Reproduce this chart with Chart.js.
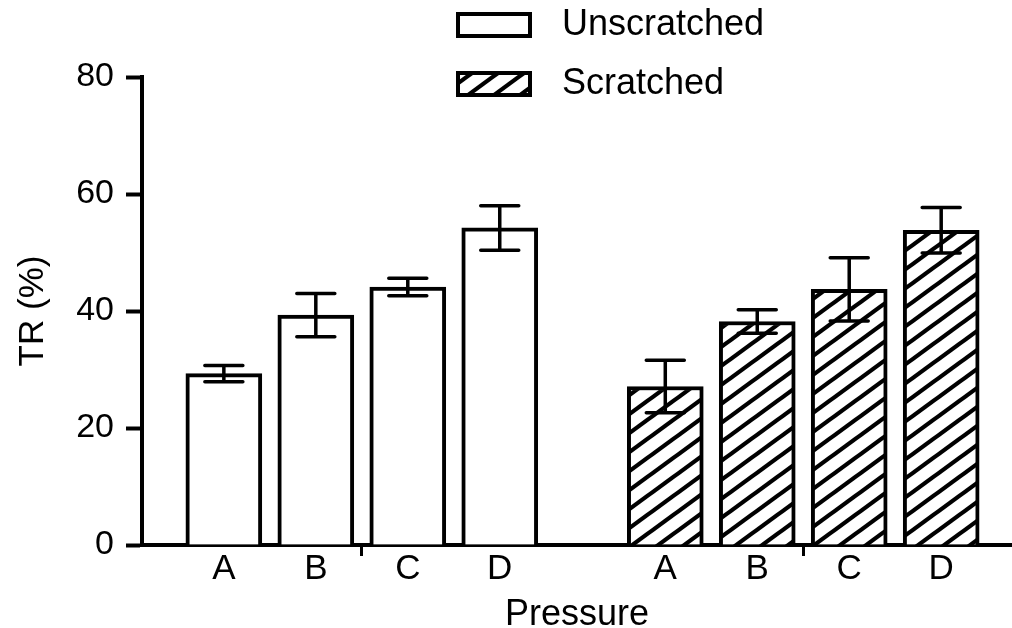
<!DOCTYPE html>
<html>
<head>
<meta charset="utf-8">
<script src="https://cdn.jsdelivr.net/npm/chart.js@4.4.1/dist/chart.umd.min.js"></script>
<style>
  html, body { margin: 0; padding: 0; background: #ffffff; }
  #wrap { width: 1012px; height: 628px; }
</style>
</head>
<body>
<div id="wrap"><canvas id="c" width="1012" height="628"></canvas></div>
<script>
// ---- data ----
const categories = ['A', 'B', 'C', 'D'];
const seriesNames = ['Unscratched', 'Scratched'];
const unscratched = [29.3, 39.3, 44.1, 54.2];
const unscratchedErr = [1.4, 3.7, 1.5, 3.8];
const scratched = [27.1, 38.2, 43.7, 53.8];
const scratchedErr = [4.5, 2.0, 5.4, 3.9];
const yTicks = [0, 20, 40, 60, 80];

// ---- layout helpers (positions on the linear x axis) ----
const GROUP_START = [1, 5.8];
function posOf(group, i) { return GROUP_START[group] + i; }
function groupCenter(group) { return GROUP_START[group] + (categories.length - 1) / 2; }

const FONT = "'Liberation Sans', Arial, Helvetica, sans-serif";

// hatch pattern
function makeHatch() {
  const w = 26, h = 19;
  const t = document.createElement('canvas');
  t.width = w; t.height = h;
  const g = t.getContext('2d');
  g.fillStyle = '#ffffff';
  g.fillRect(0, 0, w, h);
  g.strokeStyle = '#000000';
  g.lineWidth = 4.2;
  for (const off of [-h, 0, h]) {
    g.beginPath();
    g.moveTo(-w, 2 * h + off);
    g.lineTo(2 * w, -h + off);
    g.stroke();
  }
  return g.createPattern(t, 'repeat');
}
const ctx = document.getElementById('c').getContext('2d');
const hatch = makeHatch();

const errs = [unscratchedErr, scratchedErr];

const tickPositions = [];
const tickLabelMap = {};
const groupCenters = [];
[0, 1].forEach(g => {
  categories.forEach((c, i) => {
    const p = posOf(g, i);
    tickPositions.push(p);
    tickLabelMap[p.toFixed(3)] = c;
  });
  const gc = groupCenter(g);
  groupCenters.push(gc.toFixed(3));
  tickPositions.push(gc);
  tickLabelMap[gc.toFixed(3)] = '';
});
tickPositions.sort((a, b) => a - b);

const errorBarPlugin = {
  id: 'errorBars',
  afterDatasetsDraw(chart) {
    const c = chart.ctx;
    const ys = chart.scales.y;
    c.save();
    c.strokeStyle = '#000';
    c.lineWidth = 3.5;
    c.lineCap = 'round';
    chart.data.datasets.forEach((ds, di) => {
      const meta = chart.getDatasetMeta(di);
      meta.data.forEach((el, i) => {
        const v = ds.data[i].y;
        const e = errs[di][i];
        const x = el.x;
        const yt = ys.getPixelForValue(v + e);
        const yb = ys.getPixelForValue(v - e);
        const half = 19;
        c.beginPath();
        c.moveTo(x, yt); c.lineTo(x, yb);
        c.moveTo(x - half, yt); c.lineTo(x + half, yt);
        c.moveTo(x - half, yb); c.lineTo(x + half, yb);
        c.stroke();
      });
    });
    c.restore();
  }
};

const legendPlugin = {
  id: 'customLegend',
  afterDraw(chart) {
    const c = chart.ctx;
    c.save();
    const fills = ['#ffffff', hatch];
    const rows = [25, 84];
    chart.data.datasets.forEach((ds, di) => {
      const yc = rows[di];
      c.fillStyle = fills[di];
      c.fillRect(458, yc - 11, 72, 22);
      c.strokeStyle = '#000';
      c.lineWidth = 4;
      c.strokeRect(458, yc - 11, 72, 22);
      c.fillStyle = '#000';
      c.font = '36px ' + FONT;
      c.textBaseline = 'middle';
      c.textAlign = 'left';
      c.fillText(ds.label, 562, yc);
    });
    c.restore();
  }
};

const chart = new Chart(ctx, {
  type: 'bar',
  data: {
    datasets: [
      {
        label: seriesNames[0],
        data: categories.map((c, i) => ({ x: posOf(0, i), y: unscratched[i] })),
        backgroundColor: '#ffffff',
        borderColor: '#000000',
        borderWidth: 4,
        barThickness: 76,
        grouped: false
      },
      {
        label: seriesNames[1],
        data: categories.map((c, i) => ({ x: posOf(1, i), y: scratched[i] })),
        backgroundColor: hatch,
        borderColor: '#000000',
        borderWidth: 4,
        barThickness: 76,
        grouped: false
      }
    ]
  },
  options: {
    responsive: false,
    animation: false,
    devicePixelRatio: 1,
    layout: { padding: { top: 77, right: 0, left: 0, bottom: 0 } },
    plugins: {
      legend: { display: false },
      tooltip: { enabled: false }
    },
    scales: {
      x: {
        type: 'linear',
        offset: false,
        min: 0.11,
        max: 9.57,
        afterFit(scale) { scale.height = 83; },
        afterBuildTicks(scale) {
          scale.ticks = tickPositions.map(v => ({ value: v }));
        },
        ticks: {
          autoSkip: false,
          maxRotation: 0,
          color: '#000',
          padding: -8,
          font: { family: FONT, size: 35 },
          callback(value) { return tickLabelMap[Number(value).toFixed(3)] ?? ''; }
        },
        grid: {
          offset: false,
          drawOnChartArea: false,
          drawTicks: true,
          tickLength: 11,
          tickWidth: 3,
          tickColor(context) {
            if (!context.tick) return 'rgba(0,0,0,0)';
            return groupCenters.includes(Number(context.tick.value).toFixed(3)) ? '#000' : 'rgba(0,0,0,0)';
          }
        },
        border: { display: true, color: '#000', width: 4 },
        title: {
          display: true,
          text: 'Pressure',
          color: '#000',
          font: { family: FONT, size: 36 },
          padding: { top: 0, bottom: -9 }
        }
      },
      y: {
        min: 0,
        max: 80,
        afterFit(scale) { scale.width = 142; },
        afterBuildTicks(scale) {
          scale.ticks = yTicks.map(v => ({ value: v }));
        },
        ticks: {
          color: '#000',
          padding: 12,
          font: { family: FONT, size: 34 }
        },
        grid: {
          drawOnChartArea: false,
          drawTicks: true,
          tickLength: 16,
          tickWidth: 4,
          tickColor: '#000'
        },
        border: { display: true, color: '#000', width: 4 },
        title: {
          display: true,
          text: 'TR (%)',
          color: '#000',
          font: { family: FONT, size: 35 },
          padding: { top: 12, bottom: 0 }
        }
      }
    }
  },
  plugins: [errorBarPlugin, legendPlugin]
});
</script>
</body>
</html>
